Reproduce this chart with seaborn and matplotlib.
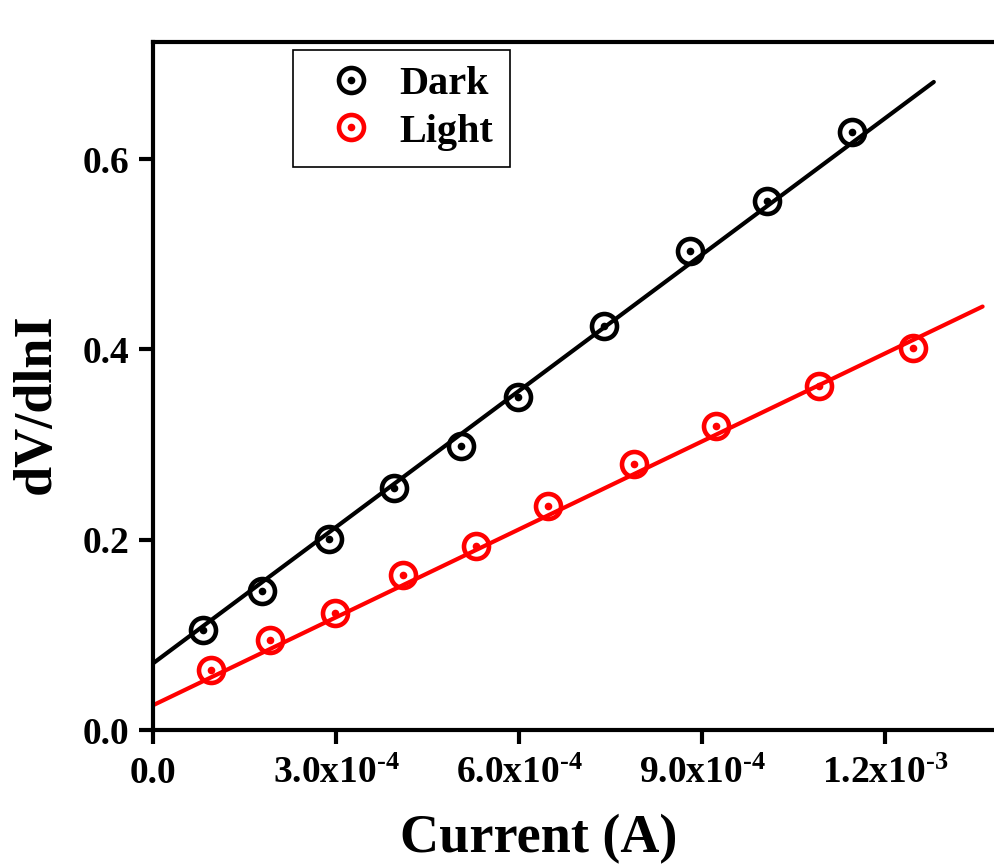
import numpy as np
import pandas as pd
import matplotlib
matplotlib.use('Agg')
import matplotlib.pyplot as plt
from matplotlib.lines import Line2D
from matplotlib.legend_handler import HandlerTuple
import seaborn as sns

# ---- data ----
dark_current = [0.82e-4, 1.79e-4, 2.89e-4, 3.95e-4, 5.05e-4, 5.98e-4, 7.39e-4, 8.80e-4, 10.07e-4, 11.46e-4]
dark_dvdlni = [0.105, 0.146, 0.201, 0.254, 0.298, 0.350, 0.425, 0.503, 0.556, 0.628]
light_current = [0.95e-4, 1.92e-4, 2.98e-4, 4.10e-4, 5.30e-4, 6.48e-4, 7.89e-4, 9.23e-4, 10.92e-4, 12.46e-4]
light_dvdlni = [0.063, 0.095, 0.123, 0.163, 0.193, 0.235, 0.280, 0.319, 0.362, 0.401]

# linear fit lines (endpoints)
dark_fit_x = [0.0, 12.8e-4]
dark_fit_y = [0.070, 0.681]
light_fit_x = [0.0, 13.6e-4]
light_fit_y = [0.026, 0.445]

xticks = [0.0, 3.0e-4, 6.0e-4, 9.0e-4, 1.2e-3]
xtick_labels = ['0.0', r'3.0x10$^{\text{-4}}$', r'6.0x10$^{\text{-4}}$',
                r'9.0x10$^{\text{-4}}$', r'1.2x10$^{\text{-3}}$']
yticks = [0.0, 0.2, 0.4, 0.6]

sns.set_style('ticks')
plt.rcParams['font.family'] = ['Liberation Serif', 'DejaVu Serif']
plt.rcParams['font.weight'] = 'bold'
plt.rcParams['mathtext.fontset'] = 'custom'
plt.rcParams['mathtext.rm'] = 'Liberation Serif:bold'
plt.rcParams['mathtext.bf'] = 'Liberation Serif:bold'
plt.rcParams['mathtext.default'] = 'bf'
for key in ['text.color', 'axes.labelcolor', 'xtick.color', 'ytick.color', 'axes.edgecolor']:
    plt.rcParams[key] = 'black'

fig = plt.figure(figsize=(9.94, 8.66), dpi=100)
ax = fig.add_axes([153/994, 136/866, 854/994, 688/866])

colors = {'Dark': 'black', 'Light': '#ff0000'}
df = pd.concat([
    pd.DataFrame({'I': dark_current, 'V': dark_dvdlni, 'cond': 'Dark'}),
    pd.DataFrame({'I': light_current, 'V': light_dvdlni, 'cond': 'Light'}),
])
fits = pd.concat([
    pd.DataFrame({'I': dark_fit_x, 'V': dark_fit_y, 'cond': 'Dark'}),
    pd.DataFrame({'I': light_fit_x, 'V': light_fit_y, 'cond': 'Light'}),
])

sns.lineplot(data=fits, x='I', y='V', hue='cond', palette=colors, linewidth=3,
             legend=False, ax=ax, zorder=2)
for cond, grp in df.groupby('cond'):
    ax.plot(grp['I'], grp['V'], 'o', ms=18, mfc='none', mec=colors[cond], mew=3.3, zorder=3)
    ax.plot(grp['I'], grp['V'], 'o', ms=5.5, color=colors[cond], mew=0, zorder=3)

ax.set_xlim(0, 1.4e-3)
ax.set_ylim(0, 0.723)
ax.set_xticks(xticks)
ax.set_xticklabels(xtick_labels)
ax.set_yticks(yticks)
ax.set_yticklabels([f'{v:.1f}' for v in yticks])
ax.tick_params(direction='out', length=10, width=3, labelsize=27)
ax.tick_params(axis='y', pad=7)
ax.tick_params(axis='x', pad=9)
for side in ['left', 'bottom', 'top', 'right']:
    ax.spines[side].set_linewidth(3)

ax.set_xlabel('Current (A)', fontsize=39, fontweight='bold')
ax.set_ylabel('dV/dlnI', fontsize=39, fontweight='bold')
ax.xaxis.set_label_coords(0.452, -0.122)
ax.yaxis.set_label_coords(-0.107, 0.475)

handles = []
for cond in ['Dark', 'Light']:
    ring = Line2D([], [], marker='o', ls='none', ms=18, mfc='none', mec=colors[cond], mew=3.3)
    dot = Line2D([], [], marker='o', ls='none', ms=5.5, color=colors[cond], mew=0)
    handles.append((ring, dot))
leg = ax.legend(handles, ['Dark', 'Light'], handler_map={tuple: HandlerTuple(ndivide=1)},
                loc='upper left', bbox_to_anchor=(140/854, 1 - 8/688), fontsize=29,
                frameon=True, fancybox=False, edgecolor='black', framealpha=1,
                handlelength=2.1, handletextpad=0.15, borderpad=0.4, labelspacing=0.25,
                borderaxespad=0)
leg.get_frame().set_linewidth(1.2)

fig.savefig('out.png', dpi=100)
